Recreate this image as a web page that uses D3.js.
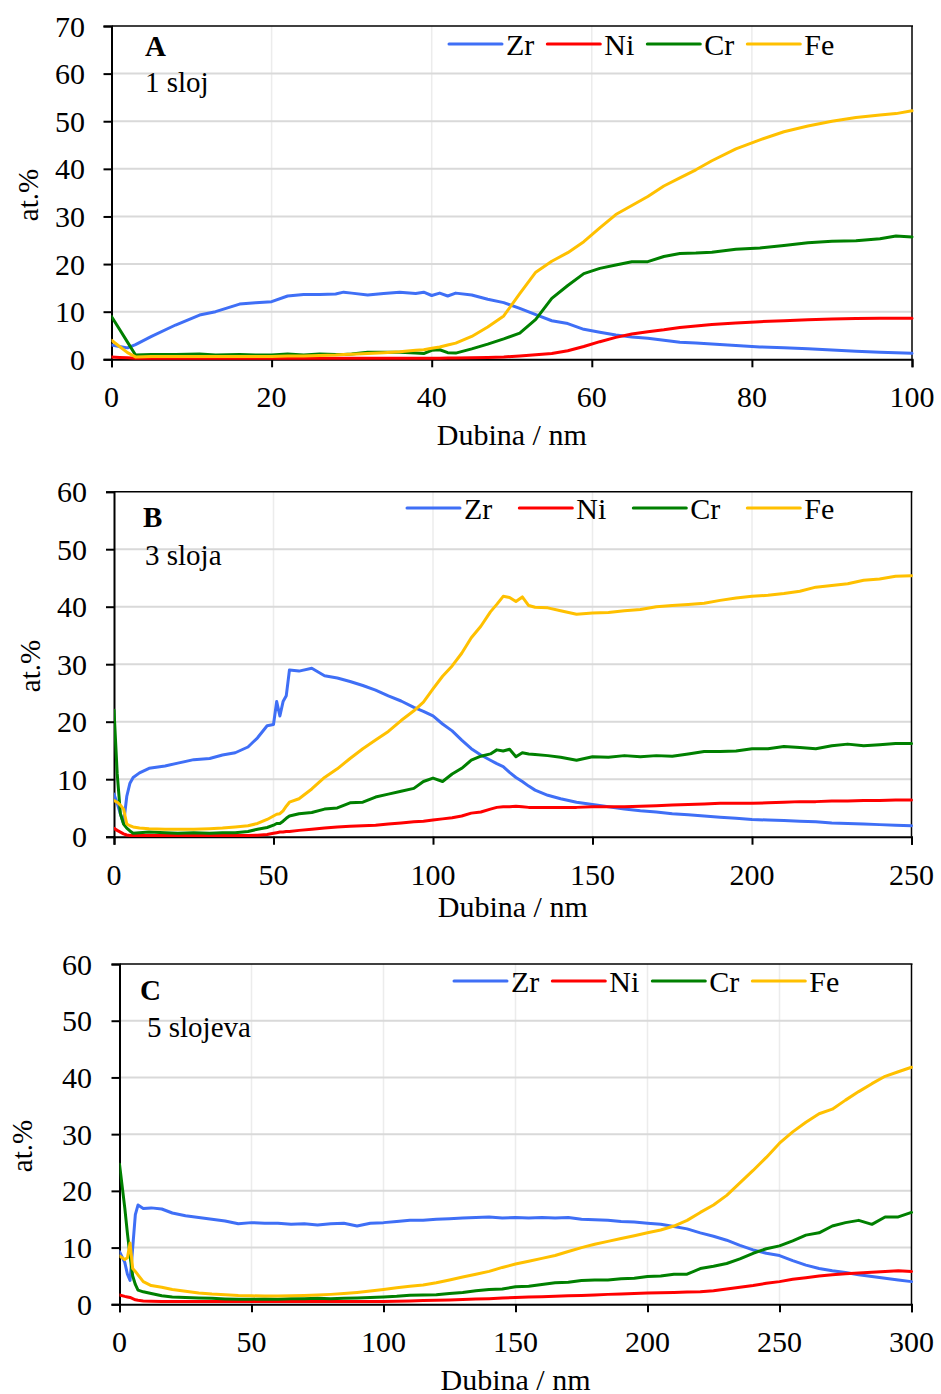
<!DOCTYPE html>
<html>
<head>
<meta charset="utf-8">
<script src="https://cdn.jsdelivr.net/npm/d3@7"></script>
<style>
  html, body { margin: 0; padding: 0; background: #fff; }
  svg { display: block; }
  text { font-family: "Liberation Serif", "Times New Roman", serif; fill: #000; }
</style>
</head>
<body>
<svg id="chart" width="941" height="1394"></svg>
<script>
// ---------------- DATA ----------------
const seriesNames = ["Zr", "Ni", "Cr", "Fe"];
const seriesColors = ["#3f6ff6", "#ff0000", "#008000", "#ffc000"];
const panelLetters = ["A", "B", "C"];
const panelSubtitles = ["1 sloj", "3 sloja", "5 slojeva"];
const xTitle = "Dubina / nm";
const yTitle = "at.%";

// Panel A (1 sloj)
const xTicksA = [0, 20, 40, 60, 80, 100];
const yTicksA = [0, 10, 20, 30, 40, 50, 60, 70];
const depthA = [0,1,2,3,5,8,11,13,16,18,20,22,24,26,28,29,30,32,34,36,38,39,40,41,42,43,45,47,49,51,53,55,57,59,61,63,65,67,69,71,73,75,78,81,84,87,90,93,96,98,100];
const zrA = [3.0,2.7,2.4,3.1,4.8,7.2,9.3,10.0,11.6,11.9,12.1,13.3,13.6,13.6,13.7,14.1,13.9,13.5,13.8,14.1,13.8,14.1,13.4,13.9,13.3,13.9,13.5,12.6,11.9,10.7,9.4,8.1,7.5,6.3,5.7,5.1,4.7,4.4,4.0,3.6,3.4,3.2,2.9,2.6,2.4,2.2,1.95,1.7,1.5,1.35,1.25];
const niA = [0.5,0.4,0.3,0.2,0.2,0.2,0.2,0.2,0.2,0.2,0.2,0.2,0.2,0.2,0.2,0.2,0.2,0.2,0.2,0.2,0.2,0.2,0.2,0.2,0.25,0.25,0.3,0.4,0.5,0.7,0.95,1.2,1.8,2.7,3.7,4.6,5.3,5.8,6.2,6.7,7.0,7.3,7.6,7.9,8.1,8.3,8.45,8.55,8.6,8.6,8.6];
const crA = [9.0,6.3,3.6,0.9,1.0,1.0,1.1,0.9,1.0,0.9,0.9,1.1,0.9,1.1,1.0,1.0,1.1,1.5,1.5,1.5,1.3,1.2,1.9,2.0,1.4,1.3,2.2,3.2,4.3,5.5,8.4,12.8,15.5,18.0,19.1,19.8,20.5,20.5,21.6,22.2,22.3,22.5,23.1,23.4,23.9,24.5,24.8,24.9,25.3,25.9,25.7];
const feA = [4.0,2.7,1.4,0.5,0.6,0.6,0.6,0.6,0.6,0.6,0.6,0.7,0.7,0.8,0.9,1.0,1.05,1.2,1.4,1.6,1.9,2.0,2.3,2.6,3.0,3.4,4.8,6.8,9.1,13.8,18.3,20.6,22.4,24.7,27.6,30.4,32.3,34.2,36.4,38.1,39.8,41.7,44.2,46.1,47.8,49.0,50.0,50.8,51.3,51.6,52.2];

// Panel B (3 sloja)
const xTicksB = [0, 50, 100, 150, 200, 250];
const yTicksB = [0, 10, 20, 30, 40, 50, 60];
const depthB = [0,1,2,3,4,5,6,8,11,16,20,25,30,34,38,42,45,48,50,51,52,53,54,55,58,62,66,70,74,78,82,86,90,94,97,100,103,106,109,112,115,118,120,122,124,126,128,130,132,136,140,145,150,155,160,165,170,175,180,185,190,195,200,205,210,215,220,225,230,235,240,245,250];
const zrB = [7.4,5.8,4.0,2.3,7.0,9.3,10.3,11.1,11.9,12.3,12.8,13.4,13.6,14.2,14.6,15.6,17.2,19.3,19.5,23.5,21.0,23.5,24.5,29.0,28.8,29.3,28.0,27.6,27.0,26.3,25.5,24.5,23.6,22.5,21.8,21.0,19.6,18.4,16.8,15.3,14.2,13.3,12.7,12.2,11.2,10.3,9.6,8.8,8.1,7.2,6.6,6.0,5.6,5.2,4.8,4.5,4.3,4.0,3.8,3.6,3.4,3.2,3.0,2.9,2.8,2.7,2.6,2.4,2.3,2.2,2.1,2.0,1.9];
const niB = [1.45,1.1,0.8,0.5,0.3,0.2,0.2,0.2,0.2,0.2,0.2,0.2,0.2,0.2,0.2,0.2,0.25,0.4,0.6,0.7,0.8,0.8,0.9,0.9,1.1,1.3,1.5,1.7,1.8,1.9,2.0,2.2,2.4,2.6,2.7,2.9,3.1,3.3,3.6,4.1,4.3,4.8,5.1,5.2,5.2,5.3,5.2,5.1,5.1,5.1,5.1,5.1,5.2,5.2,5.2,5.3,5.4,5.5,5.6,5.7,5.8,5.8,5.8,5.9,6.0,6.1,6.1,6.2,6.2,6.3,6.3,6.4,6.4];
const crB = [22.0,11.0,4.0,2.2,1.5,1.0,0.6,0.7,0.8,0.7,0.6,0.7,0.6,0.7,0.7,0.9,1.3,1.6,2.0,2.3,2.3,2.7,3.2,3.6,4.0,4.2,4.8,5.0,5.9,6.0,6.9,7.4,7.9,8.4,9.6,10.2,9.6,10.9,11.9,13.3,14.0,14.4,15.1,14.9,15.2,13.9,14.6,14.4,14.3,14.1,13.8,13.3,13.9,13.8,14.1,13.9,14.1,14.0,14.4,14.8,14.8,14.9,15.3,15.3,15.7,15.5,15.3,15.8,16.1,15.8,16.0,16.2,16.2];
const feB = [6.3,6.0,5.5,4.8,2.2,1.9,1.7,1.5,1.4,1.3,1.3,1.3,1.4,1.5,1.7,1.9,2.3,3.0,3.6,3.9,4.0,4.5,5.3,6.0,6.6,8.3,10.3,11.8,13.6,15.3,16.8,18.3,20.2,21.9,23.4,25.7,27.9,29.7,31.9,34.6,36.6,39.1,40.4,41.8,41.6,40.9,41.7,40.2,39.9,39.8,39.3,38.7,38.9,39.0,39.3,39.5,40.0,40.2,40.4,40.6,41.1,41.5,41.8,42.0,42.3,42.7,43.4,43.7,44.0,44.6,44.8,45.3,45.4];

// Panel C (5 slojeva)
const xTicksC = [0, 50, 100, 150, 200, 250, 300];
const yTicksC = [0, 10, 20, 30, 40, 50, 60];
const depthC = [0,2,3,4,5,6,7,9,12,16,20,25,30,35,40,45,50,55,60,65,70,75,80,85,90,95,100,105,110,115,120,125,130,135,140,145,150,155,160,165,170,175,180,185,190,195,200,205,210,215,220,225,230,235,240,245,250,255,260,265,270,275,280,285,290,295,300];
const zrC = [9.3,7.4,5.3,4.2,10.0,15.8,17.5,16.9,17.0,16.8,16.1,15.6,15.3,15.0,14.7,14.2,14.4,14.3,14.3,14.1,14.2,14.0,14.2,14.3,13.8,14.3,14.4,14.6,14.8,14.8,15.0,15.1,15.2,15.3,15.4,15.2,15.3,15.2,15.3,15.2,15.3,15.0,14.9,14.8,14.6,14.5,14.3,14.1,13.7,13.3,12.6,12.0,11.3,10.4,9.6,9.0,8.6,7.7,6.9,6.3,5.9,5.6,5.2,4.9,4.6,4.3,4.0];
const niC = [1.65,1.4,1.3,1.2,1.0,0.8,0.7,0.6,0.55,0.5,0.5,0.5,0.5,0.5,0.5,0.5,0.5,0.5,0.5,0.5,0.5,0.5,0.5,0.5,0.5,0.5,0.5,0.55,0.6,0.65,0.7,0.75,0.85,0.95,1.0,1.1,1.2,1.3,1.35,1.4,1.5,1.55,1.65,1.75,1.8,1.9,2.0,2.05,2.1,2.15,2.2,2.4,2.7,3.0,3.3,3.7,4.0,4.4,4.7,5.0,5.2,5.4,5.5,5.65,5.8,5.9,5.8];
const crC = [24.7,17.0,12.5,8.5,5.0,3.5,2.5,2.2,1.9,1.5,1.3,1.2,1.1,1.05,0.95,0.9,0.9,0.95,0.9,1.0,1.0,1.05,1.0,1.05,1.1,1.2,1.3,1.4,1.6,1.65,1.7,1.9,2.1,2.4,2.6,2.7,3.1,3.2,3.5,3.8,3.9,4.2,4.3,4.3,4.5,4.6,4.9,5.0,5.3,5.3,6.3,6.7,7.2,8.0,9.0,9.8,10.3,11.2,12.2,12.6,13.8,14.4,14.8,14.1,15.4,15.4,16.2];
const feC = [8.5,7.9,8.2,10.8,6.3,5.8,5.2,4.0,3.3,3.0,2.6,2.3,2.0,1.8,1.7,1.55,1.5,1.45,1.45,1.5,1.55,1.65,1.75,1.9,2.1,2.35,2.6,2.9,3.2,3.4,3.8,4.3,4.8,5.3,5.8,6.5,7.1,7.6,8.1,8.6,9.3,10.0,10.6,11.1,11.6,12.1,12.6,13.1,13.8,14.8,16.2,17.5,19.2,21.4,23.6,25.9,28.4,30.4,32.1,33.6,34.4,36.0,37.5,38.9,40.2,41.0,41.8];

// ---------------- LAYOUT ----------------
const panels = [
  { depth: depthA, series: [zrA, niA, crA, feA], xTicks: xTicksA, yTicks: yTicksA,
    left: 111.5, right: 912, top: 26, bottom: 359.3,
    legendX: 449, legendY: 44, legendGap: 13,
    yLabelRight: 85, yTitleX: 38, yTitleY: 195, xTitleY: 445,
    letterPos: [145, 56], subPos: [145, 92] },
  { depth: depthB, series: [zrB, niB, crB, feB], xTicks: xTicksB, yTicks: yTicksB,
    left: 114, right: 911.5, top: 491.7, bottom: 836.7,
    legendX: 407, legendY: 508, legendGap: 27,
    yLabelRight: 87, yTitleX: 40, yTitleY: 666, xTitleY: 917,
    letterPos: [143, 527], subPos: [145, 565] },
  { depth: depthC, series: [zrC, niC, crC, feC], xTicks: xTicksC, yTicks: yTicksC,
    left: 119.5, right: 911.5, top: 964, bottom: 1304.3,
    legendX: 454, legendY: 981, legendGap: 13,
    yLabelRight: 92, yTitleX: 32, yTitleY: 1146, xTitleY: 1390,
    letterPos: [140, 1000], subPos: [147, 1037] }
];

const svg = d3.select("#chart");
const FS = 30;

panels.forEach((p, i) => {
  const x = d3.scaleLinear().domain(d3.extent(p.xTicks)).range([p.left, p.right]);
  const y = d3.scaleLinear().domain(d3.extent(p.yTicks)).range([p.bottom, p.top]);
  const g = svg.append("g");

  // vertical gridlines
  g.append("g").selectAll("line").data(p.xTicks.slice(1, -1)).join("line")
    .attr("x1", d => x(d)).attr("x2", d => x(d))
    .attr("y1", p.top).attr("y2", p.bottom)
    .attr("stroke", "#ececec").attr("stroke-width", 1.5);
  // horizontal gridlines
  g.append("g").selectAll("line").data(p.yTicks.slice(1, -1)).join("line")
    .attr("x1", p.left).attr("x2", p.right)
    .attr("y1", d => y(d)).attr("y2", d => y(d))
    .attr("stroke", "#d9d9d9").attr("stroke-width", 2);

  // frame top and right
  g.append("line").attr("x1", p.left).attr("x2", p.right + 1)
    .attr("y1", p.top).attr("y2", p.top).attr("stroke", "#000").attr("stroke-width", 1.5);
  g.append("line").attr("x1", p.right).attr("x2", p.right)
    .attr("y1", p.top).attr("y2", p.bottom).attr("stroke", "#000").attr("stroke-width", 1.5);

  // axes
  const yAxis = d3.axisLeft(y).tickValues(p.yTicks).tickSize(8).tickFormat("");
  const ya = g.append("g").attr("transform", `translate(${p.left},0)`).call(yAxis);
  ya.select(".domain").attr("stroke", "#000").attr("stroke-width", 2);
  ya.selectAll(".tick line").attr("stroke", "#000").attr("stroke-width", 2);

  const xAxis = d3.axisBottom(x).tickValues(p.xTicks).tickSize(8).tickFormat("");
  const xa = g.append("g").attr("transform", `translate(0,${p.bottom})`).call(xAxis);
  xa.select(".domain").attr("stroke", "#000").attr("stroke-width", 2);
  xa.selectAll(".tick line").attr("stroke", "#000").attr("stroke-width", 2);

  // tick labels
  g.append("g").selectAll("text").data(p.yTicks).join("text")
    .attr("x", p.yLabelRight).attr("y", d => y(d) + 10.5)
    .attr("text-anchor", "end").attr("font-size", FS).text(d => d);
  g.append("g").selectAll("text").data(p.xTicks).join("text")
    .attr("x", d => x(d)).attr("y", p.bottom + 48)
    .attr("text-anchor", "middle").attr("font-size", FS).text(d => d);

  // axis titles
  g.append("text").attr("x", (p.left + p.right) / 2).attr("y", p.xTitleY)
    .attr("text-anchor", "middle").attr("font-size", FS).text(xTitle);
  g.append("text").attr("transform", `translate(${p.yTitleX},${p.yTitleY}) rotate(-90)`)
    .attr("text-anchor", "middle").attr("font-size", 29).text(yTitle);

  // series lines
  const clipId = "clip" + i;
  svg.append("clipPath").attr("id", clipId).append("rect")
    .attr("x", p.left).attr("y", p.top - 2).attr("width", p.right - p.left + 2).attr("height", p.bottom - p.top + 4);
  const lg = g.append("g").attr("clip-path", `url(#${clipId})`);
  p.series.forEach((vals, k) => {
    const pts = p.depth.map((d, j) => [d, vals[j]]);
    lg.append("path").datum(pts)
      .attr("d", d3.line().x(d => x(d[0])).y(d => y(d[1])))
      .attr("fill", "none").attr("stroke", seriesColors[k])
      .attr("stroke-width", 3).attr("stroke-linejoin", "round").attr("stroke-linecap", "round");
  });

  // legend
  let lx = p.legendX;
  seriesNames.forEach((name, k) => {
    g.append("line").attr("x1", lx).attr("x2", lx + 53)
      .attr("y1", p.legendY).attr("y2", p.legendY)
      .attr("stroke", seriesColors[k]).attr("stroke-width", 3).attr("stroke-linecap", "round");
    const t = g.append("text").attr("x", lx + 57).attr("y", p.legendY + 10.5)
      .attr("font-size", FS).text(name);
    const w = t.node().getComputedTextLength();
    lx = lx + 57 + w + p.legendGap;
  });

  // panel letter and subtitle
  g.append("text").attr("x", p.letterPos[0]).attr("y", p.letterPos[1])
    .attr("font-size", 29).attr("font-weight", "bold").text(panelLetters[i]);
  g.append("text").attr("x", p.subPos[0]).attr("y", p.subPos[1])
    .attr("font-size", 29).text(panelSubtitles[i]);
});
</script>
</body>
</html>
